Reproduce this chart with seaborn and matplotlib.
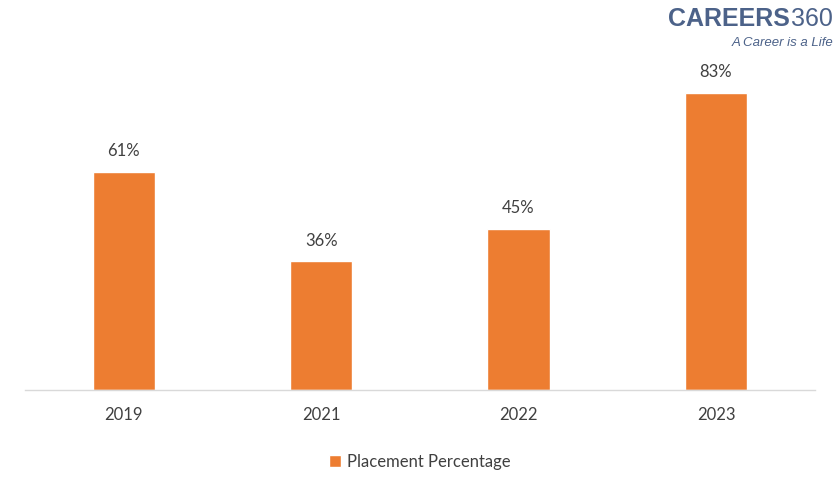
import matplotlib
matplotlib.use('Agg')
import matplotlib.pyplot as plt
import seaborn as sns
import pandas as pd

# chart data
years = ['2019', '2021', '2022', '2023']
placement = [61, 36, 45, 83]

df = pd.DataFrame({'Year': years, 'Placement Percentage': placement})

sns.set_style('white')
plt.rcParams['font.family'] = ['Lato', 'DejaVu Sans']

fig = plt.figure(figsize=(8.39, 4.92), dpi=100)
ax = fig.add_axes([0.0298, 0.2073, 0.9412, 0.728])

sns.barplot(data=df, x='Year', y='Placement Percentage', color='#ED7D31',
            saturation=1, width=0.315, ax=ax, label='Placement Percentage')

# value labels above bars
for c in ax.containers:
    ax.bar_label(c, labels=[f'{v}%' for v in placement], padding=9,
                 fontsize=12, color='#404040')

ax.set_ylim(0, 100)
ax.set_xlim(-0.5, 3.5)
ax.set_xlabel('')
ax.set_ylabel('')
ax.set_yticks([])
ax.tick_params(axis='x', length=0, pad=12, labelsize=12, labelcolor='#404040')
for s in ['top', 'right', 'left']:
    ax.spines[s].set_visible(False)
ax.spines['bottom'].set_color('#d9d9d9')
ax.spines['bottom'].set_linewidth(1)

ax.legend(loc='lower center', bbox_to_anchor=(0.5, -0.265), frameon=False,
          handlelength=0.7, handleheight=0.7, handletextpad=0.4,
          fontsize=12, labelcolor='#404040')

# logo
logo_font = ['Liberation Sans', 'DejaVu Sans']
fig.text(0.9416, 0.962, 'CAREERS', ha='right', va='center', fontsize=18,
         fontweight='bold', color='#4c6289', family=logo_font)
fig.text(0.9430, 0.962, '360', ha='left', va='center', fontsize=18,
         fontweight='light', color='#4c6289', family=logo_font)
fig.text(0.993, 0.913, 'A Career is a Life', ha='right', va='center', fontsize=9.5,
         style='italic', color='#4c6289', family=logo_font)

fig.savefig('out.png', dpi=100)
